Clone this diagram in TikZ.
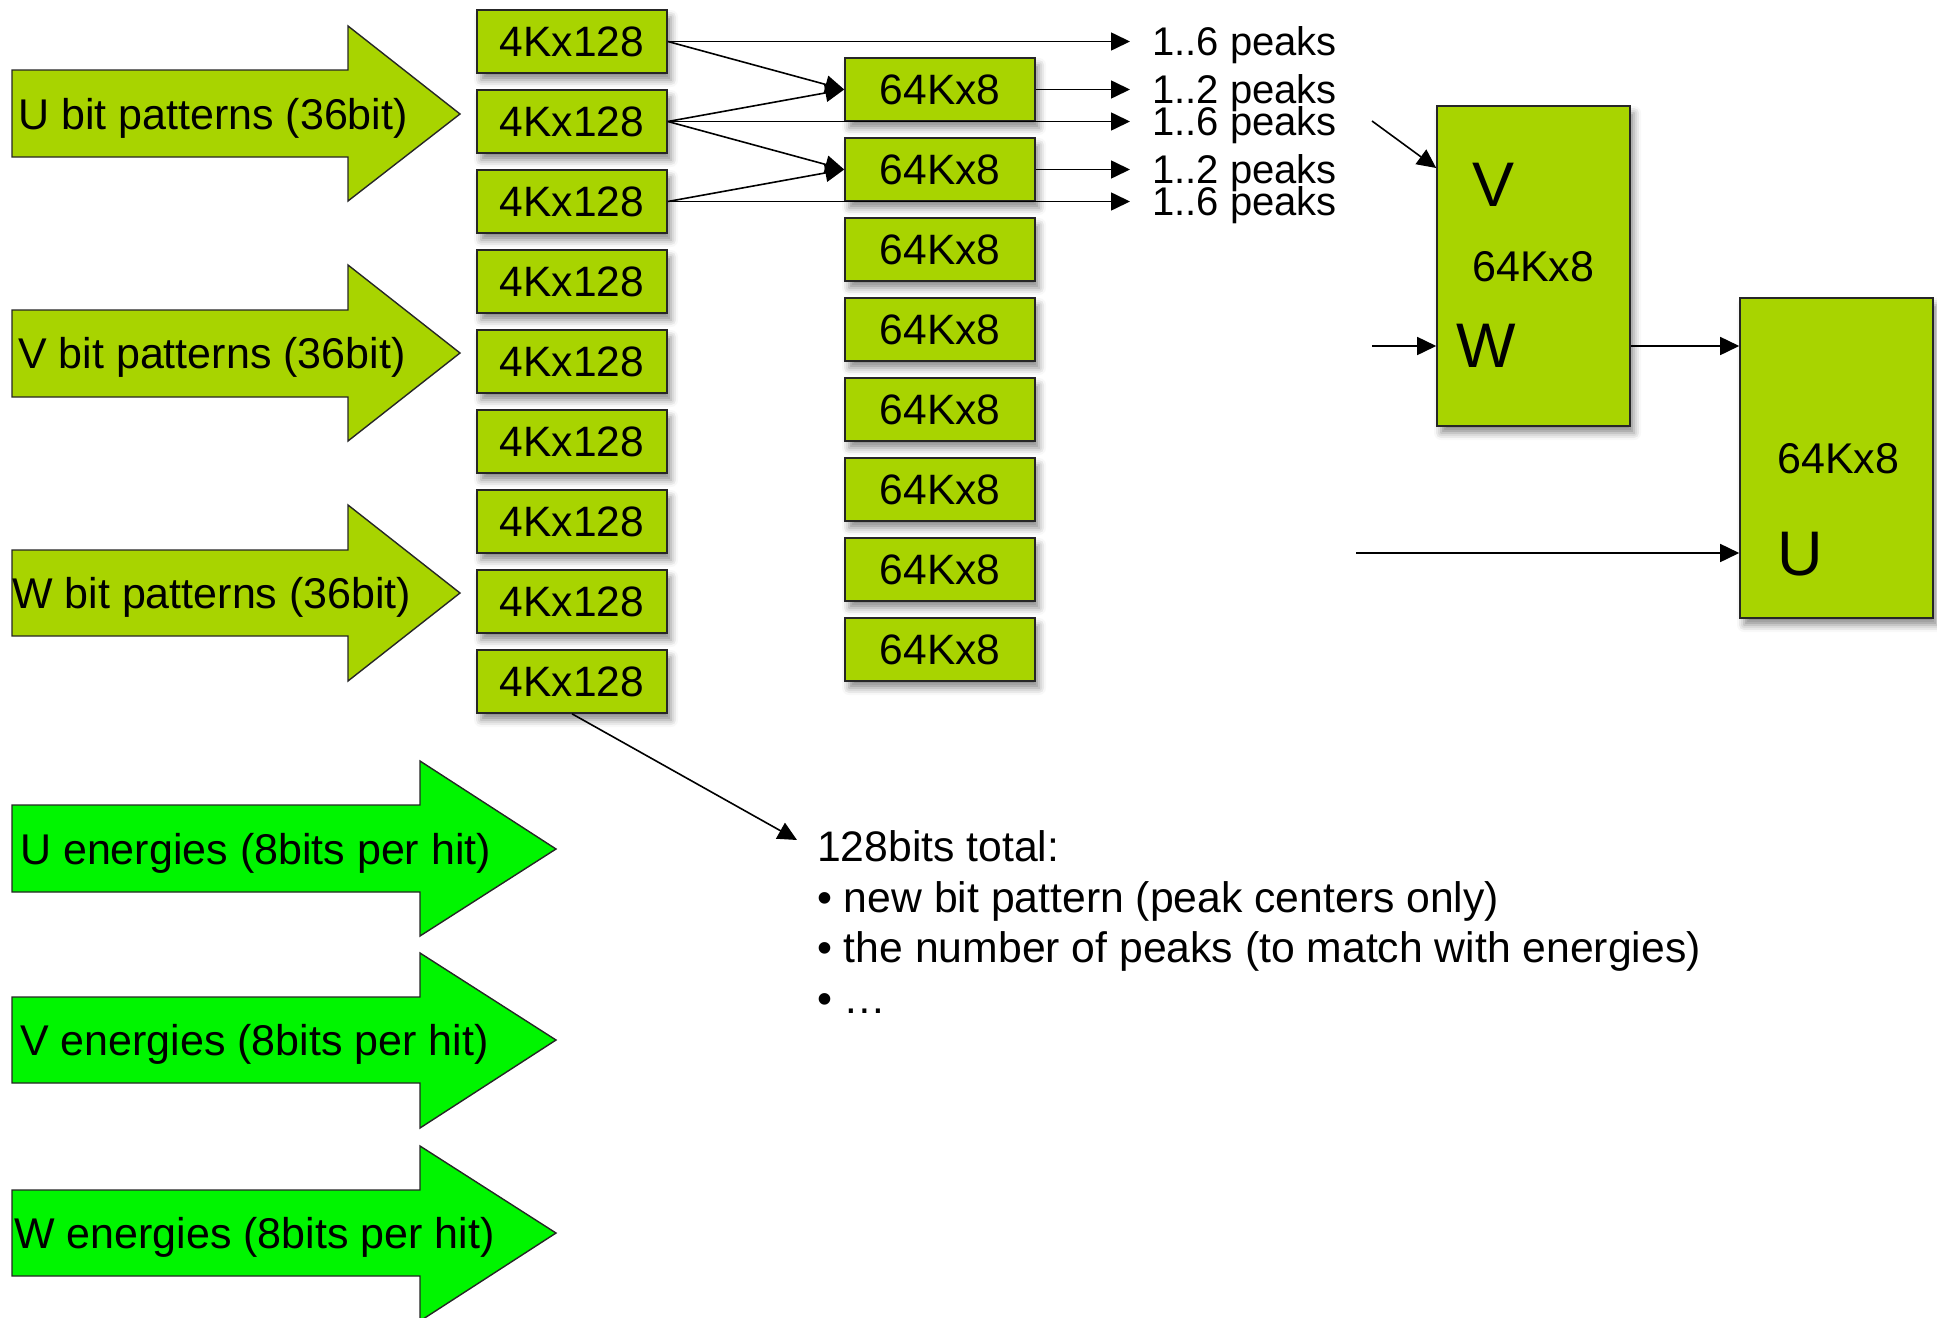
\documentclass[tikz,border=0pt]{standalone}
\usepackage{fontspec}
\setmainfont{Liberation Sans}
\usetikzlibrary{arrows.meta,shadows.blur}
\definecolor{boxg}{HTML}{A8D400}
\definecolor{engg}{HTML}{00F500}
\tikzset{
  mem/.style={draw=black!85, line width=1.6pt, fill=boxg, inner sep=0pt,
    font=\fontsize{42.5}{50}\selectfont,
    blur shadow={shadow xshift=4pt, shadow yshift=-7pt, shadow blur radius=7pt, shadow opacity=45}},
  small/.style={mem, minimum width=190pt, minimum height=63pt},
  tall/.style={mem, minimum width=193pt, minimum height=320pt},
  con/.style={line width=1.6pt, -{Triangle[length=19pt,width=18pt]}},
  patarrow/.style={draw=black!85, line width=1.4pt, fill=boxg},
  enarrow/.style={draw=black!85, line width=1.4pt, fill=engg},
  txt/.style={inner sep=0pt, anchor=base west, font=\fontsize{43}{50}\selectfont},
  lbl/.style={inner sep=0pt, anchor=base west, font=\fontsize{40}{48}\selectfont},
  big/.style={inner sep=0pt, anchor=base west, font=\fontsize{63}{70}\selectfont},
  note/.style={inner sep=0pt, anchor=base west, font=\fontsize{42.7}{50}\selectfont},
}
\begin{document}
\begin{tikzpicture}[x=1pt,y=-1pt]
\useasboundingbox (0,0) rectangle (1937,1317);

% bit pattern arrows
\draw[patarrow] (12,70) -- (348,70) -- (348,26) -- (460,114) -- (348,201) -- (348,157) -- (12,157) -- cycle;
\node[txt] (tu) at (18,129) {U bit patterns (36bit)};
\draw[patarrow] (12,310) -- (348,310) -- (348,265) -- (460,353) -- (348,441) -- (348,397) -- (12,397) -- cycle;
\node[txt] (tv) at (18,368) {V bit patterns (36bit)};
\draw[patarrow] (12,550) -- (348,550) -- (348,505) -- (460,593) -- (348,681) -- (348,636) -- (12,636) -- cycle;
\node[txt] (tw) at (12,608) {W bit patterns (36bit)};

% energy arrows
\draw[enarrow] (12,805) -- (420,805) -- (420,761) -- (556,849) -- (420,936) -- (420,892) -- (12,892) -- cycle;
\node[txt] (eu) at (20,864) {U energies (8bits per hit)};
\draw[enarrow] (12,997) -- (420,997) -- (420,953) -- (556,1040) -- (420,1128) -- (420,1083) -- (12,1083) -- cycle;
\node[txt] (ev) at (20,1055) {V energies (8bits per hit)};
\draw[enarrow] (12,1190) -- (420,1190) -- (420,1146) -- (556,1233) -- (420,1321) -- (420,1276) -- (12,1276) -- cycle;
\node[txt] (ew) at (14,1248) {W energies (8bits per hit)};

% 4Kx128 column
\foreach \i in {1,...,9} {
  \node[small] (a\i) at (572,{41.5+80*(\i-1)}) {4Kx128};
}
% 64Kx8 column
\foreach \i in {1,...,8} {
  \node[small] (b\i) at (940,{89.5+80*(\i-1)}) {64Kx8};
}

% label end points
\coordinate (e1) at (1130,41.5);
\coordinate (e2) at (1130,89.5);
\coordinate (e3) at (1130,121.5);
\coordinate (e4) at (1130,169.5);
\coordinate (e5) at (1130,201.5);
\node[lbl] (l1) at (1152,55.5) {1..6 peaks};
\node[lbl] (l2) at (1152,103.5) {1..2 peaks};
\node[lbl] (l3) at (1152,135.5) {1..6 peaks};
\node[lbl] (l4) at (1152,183.5) {1..2 peaks};
\node[lbl] (l5) at (1152,215.5) {1..6 peaks};

\draw[con] (a1.east) -- (e1);
\draw[con] (a1.east) -- (b1.west);
\draw[con] (a2.east) -- (b1.west);
\draw[con] (a2.east) -- (e3);
\draw[con] (a2.east) -- (b2.west);
\draw[con] (a3.east) -- (b2.west);
\draw[con] (a3.east) -- (e5);
\draw[con] (b1.east) -- (e2);
\draw[con] (b2.east) -- (e4);

% right-hand blocks
\node[tall] (vw) at (1533.5,266) {};
\node[big] (vl) at (1472,206) {V};
\node[txt] (vwt) at (1472,281) {64Kx8};
\node[big] (wl) at (1456,367) {W};
\node[tall] (ub) at (1836.5,458) {};
\node[txt] (ubt) at (1777,473) {64Kx8};
\node[big] (ul) at (1777,575) {U};

\coordinate (f1) at (1372,121);
\coordinate (f2) at (1372,346);
\coordinate (f3) at (1356,553);
\draw[con] (f1) -- ([yshift=98pt]vw.west);
\draw[con] (f2) -- ([yshift=-80pt]vw.west);
\draw[con] ([yshift=-80pt]vw.east) -- ([yshift=112pt]ub.west);
\draw[con] (f3) -- ([yshift=-95pt]ub.west);

% note
\coordinate (g) at (797,840);
\draw[con] (a9.south) -- (g);
\node[note] (n1) at (817,861) {128bits total:};
\node[note] (n2) at (817,912) {• new bit pattern (peak centers only)};
\node[note] (n3) at (817,962) {• the number of peaks (to match with energies)};
\node[note] (n4) at (817,1013) {• …};
\end{tikzpicture}
\end{document}
